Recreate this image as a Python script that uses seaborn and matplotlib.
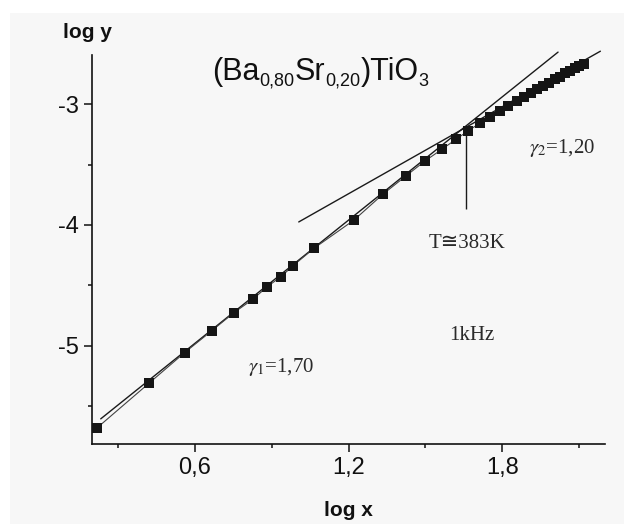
import matplotlib
matplotlib.use("Agg")
import matplotlib.pyplot as plt
import numpy as np
import seaborn as sns
from matplotlib.patches import Rectangle

# Measured conductivity points (log-log)
log_x = [0.219, 0.422, 0.561, 0.667, 0.753, 0.827, 0.883, 0.937, 0.984, 1.067,
         1.221, 1.335, 1.425, 1.498, 1.563, 1.619, 1.667, 1.711, 1.752, 1.789,
         1.822, 1.855, 1.883, 1.912, 1.935, 1.960, 1.983, 2.005, 2.025, 2.045,
         2.065, 2.083, 2.100, 2.117]
log_y = [-5.678, -5.308, -5.055, -4.874, -4.725, -4.614, -4.510, -4.427, -4.336, -4.190,
         -3.960, -3.744, -3.593, -3.471, -3.376, -3.292, -3.221, -3.160, -3.109, -3.058,
         -3.018, -2.978, -2.945, -2.912, -2.879, -2.851, -2.824, -2.796, -2.774, -2.746,
         -2.725, -2.705, -2.688, -2.669]

# Power-law fits: log y = gamma * log x + b
gamma1 = 1.70
gamma1_intercept = -6.00
gamma1_span = [0.234, 2.017]
gamma2 = 1.20
gamma2_intercept = -5.182
gamma2_span = [1.006, 2.182]

# Crossover marker
transition_x = 1.66
transition_y = [-3.19, -3.87]

x_ticks = [0.6, 1.2, 1.8]
x_tick_labels = ["0,6", "1,2", "1,8"]
x_minor = [0.3, 0.9, 1.5, 2.1]
y_ticks = [-5, -4, -3]
y_tick_labels = ["-5", "-4", "-3"]
y_minor = [-5.5, -4.5, -3.5]

sns.set_style("ticks")
plt.rcParams["font.family"] = ["Liberation Sans", "DejaVu Sans"]
plt.rcParams["mathtext.fontset"] = "stix"
plt.rcParams["axes.unicode_minus"] = False

W, H = 624, 524
fig = plt.figure(figsize=(W / 100, H / 100), dpi=100, facecolor="white")
fig.patches.append(Rectangle((10 / W, 0), 1 - 10 / W, 1 - 13 / H,
                             transform=fig.transFigure, facecolor="#f7f7f7",
                             edgecolor="none", zorder=-10))
ax = fig.add_axes([92 / W, 1 - 444 / H, (605 - 92) / W, (444 - 55) / H])
ax.set_facecolor("none")

ink = "#1a1a1a"

# fit lines
fx1 = np.array(gamma1_span)
sns.lineplot(x=fx1, y=gamma1 * fx1 + gamma1_intercept, ax=ax, color=ink,
             linewidth=1.0, estimator=None, clip_on=False, zorder=2)
fx2 = np.array(gamma2_span)
sns.lineplot(x=fx2, y=gamma2 * fx2 + gamma2_intercept, ax=ax, color=ink,
             linewidth=1.0, estimator=None, clip_on=False, zorder=2)

# data with connecting line
sns.lineplot(x=log_x, y=log_y, ax=ax, color="#444444", linewidth=0.8,
             marker="s", markersize=6.5, markerfacecolor="#151515",
             markeredgecolor="#151515", markeredgewidth=0,
             estimator=None, sort=False, clip_on=False, zorder=3)

ax.vlines(transition_x, transition_y[0], transition_y[1], color=ink, linewidth=1.0)

ax.set_xlim(0.2, 2.2)
ax.set_ylim(-5.81, -2.595)
sns.despine(ax=ax)
for s in ("left", "bottom"):
    ax.spines[s].set_linewidth(1.2)
    ax.spines[s].set_color("#111111")

ax.set_xticks(x_ticks, x_tick_labels)
ax.set_xticks(x_minor, minor=True)
ax.set_yticks(y_ticks, y_tick_labels)
ax.set_yticks(y_minor, minor=True)
ax.tick_params(which="major", length=5.5, width=1.1, direction="out",
               labelsize=17, pad=4, colors="#111111")
ax.tick_params(which="minor", length=3, width=1.1, direction="out", colors="#111111")
ax.set_xlabel("")
ax.set_ylabel("")

fig.text(87 / W, 1 - 33 / H, "log y", ha="center", va="center",
         fontsize=15, fontweight="bold", color="#111111")
fig.text(348 / W, 1 - 511 / H, "log x", ha="center", va="center",
         fontsize=15, fontweight="bold", color="#111111")

# compound formula with small lowered subscripts
main_base = 1 - 80 / H
sub_base = 1 - 86 / H
pieces = [("(Ba", False), ("0,80", True), ("Sr", False), ("0,20", True),
          (")TiO", False), ("3", True)]
prev = None
for txt, is_sub in pieces:
    size = 13 if is_sub else 22
    base = sub_base if is_sub else main_base
    if prev is None:
        prev = fig.text(212 / W, base, txt, fontsize=size, va="baseline",
                        ha="left", color="#111111")
    else:
        prev = fig.add_artist(matplotlib.text.Annotation(
            txt, xy=(1, base), xycoords=(prev, fig.transFigure),
            fontsize=size, va="baseline", ha="left", color="#111111"))

serif = ["Liberation Serif", "DejaVu Sans"]
note = "#2a2a2a"
ax.text(1.663, -4.149, "T≅383K", family=serif, fontsize=15, ha="center",
        va="center", color=note)
ax.text(1.904, -3.364, r"$\gamma_2$=1,20", family=serif, fontsize=15, ha="left",
        va="center", color=note)
ax.text(1.682, -4.917, "1kHz", family=serif, fontsize=15, ha="center",
        va="center", color=note)
ax.text(0.810, -5.174, r"$\gamma_1$=1,70", family=serif, fontsize=15, ha="left",
        va="center", color=note)

fig.savefig("out.png", dpi=100, facecolor="white")
